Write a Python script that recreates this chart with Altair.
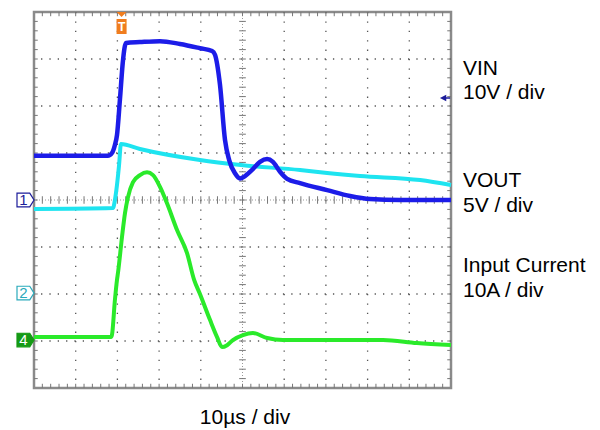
import altair as alt
import pandas as pd

# ---------------- data ----------------
# time axis in microseconds (10 us / div), trigger at t = 0
T_MIN, T_MAX = -21, 79
VIN_DOM = [-40, 40]        # 10 V / div, channel 1 ground at centre
VOUT_DOM = [-10.1, 29.9]   # 5 V / div, channel 2 ground
CUR_DOM = [-10.2, 69.8]    # 10 A / div, channel 4 ground
DIV_DOM = [0, 8]           # graticule, vertical divisions

vin_t = [-21, -3.3, -2.3, -1.6, -1.1, -0.4, 0.35, 1.05, 4.4, 9.2, 14.0, 18.8,
         21.7, 22.4, 23.6, 24.8, 25.8, 27.2, 28.4, 29.6, 31.3, 33.2, 34.9, 36.3,
         38.0, 39.7, 42.8, 49.3, 54.8, 59.6, 66.8, 79]
vin_v = [9.4, 9.4, 10.0, 11.7, 13.8, 21.3, 29.8, 33.4, 33.6, 33.8, 33.2, 32.3,
         31.7, 30.9, 24.5, 12.8, 8.5, 5.7, 4.6, 5.1, 6.4, 8.1, 8.7, 8.1,
         6.0, 4.5, 3.6, 2.1, 0.85, 0.2, 0.0, 0.0]

vout_t = [-21, -2.05, -1.6, -1.1, -0.6, -0.15, 4.4, 18.8, 28.6, 42.8, 49.3, 57.2, 71.6, 79]
vout_v = [8.94, 9.04, 9.89, 11.49, 13.62, 15.85, 15.32, 14.15, 13.62, 13.09, 12.77,
          12.45, 12.02, 11.49]

cur_t = [-21, -2.53, -2.3, -1.6, -1.1, -0.86, 0.1, 0.82, 1.54, 2.74, 4.42, 6.1, 7.54,
         9.22, 10.9, 13.3, 15.7, 17.4, 18.8, 21.2, 22.9, 24.1, 25.3, 26.7, 29.1,
         31.5, 34.9, 38.7, 50.7, 62.7, 70.8, 79]
cur_i = [0.64, 0.64, 1.1, 8.5, 12.8, 14.3, 21.9, 27.0, 30.4, 33.6, 35.1, 35.7, 35.1,
         32.6, 29.1, 23.4, 18.5, 12.8, 9.8, 4.3, 0.64, -1.5, -1.1, 0.0, 1.06,
         1.5, 0.43, 0.0, 0.0, 0.0, -0.64, -1.06]

trigger_time = [0.0]
trigger_level = [21.7]   # V on channel 1
trigger_arrow_t = [77.1]

channel_marks = ["1", "2", "4"]
right_labels = ["VIN", "10V / div", "VOUT", "5V / div", "Input Current", "10A / div"]
time_label = "10µs / div"

# ---------------- styling ----------------
W, H = 417, 376
FONT = "Liberation Sans"
BLUE = "#1c1ce8"
CYAN = "#1ee4f0"
GREEN = "#2aea2a"
NAVY = "#1c1c9a"
TEAL = "#2aaabb"
DKGREEN = "#159a15"
ORANGE = "#f07d1e"
PENT = "M-1,-0.8 L0.5,-0.8 L1,0 L0.5,0.8 L-1,0.8 Z"


def xs(field="t"):
    return alt.X(f"{field}:Q", scale=alt.Scale(domain=[T_MIN, T_MAX], nice=False, zero=False), axis=None)


def ys(field, dom):
    return alt.Y(f"{field}:Q", scale=alt.Scale(domain=dom, nice=False, zero=False), axis=None)


one = pd.DataFrame({"v": [0.0]})
layers = []

# graticule
vg = pd.DataFrame({"t": [T_MIN + 10 * k for k in range(1, 10) if k != 5]})
layers.append(alt.Chart(vg).mark_rule(color="#555", strokeWidth=1.3, strokeDash=[1.3, 8.1])
              .encode(x=xs()))
hg = pd.DataFrame({"d": [k for k in range(1, 8) if k != 4]})
layers.append(alt.Chart(hg).mark_rule(color="#555", strokeWidth=1.3, strokeDash=[1.3, 7.04])
              .encode(y=ys("d", DIV_DOM)))
layers.append(alt.Chart(pd.DataFrame({"t": [T_MIN + 50]})).mark_rule(color="#999", strokeDash=[1, 2])
              .encode(x=xs()))
layers.append(alt.Chart(pd.DataFrame({"d": [4]})).mark_rule(color="#999", strokeDash=[1, 2])
              .encode(y=ys("d", DIV_DOM)))

# minor ticks on centre lines and border
xt = [T_MIN + 2 * k for k in range(1, 50)]
yt = [0.2 * k for k in range(1, 40)]
for a, b in [(3.92, 4.08), (7.91, 8.0), (0.0, 0.09)]:
    df = pd.DataFrame({"t": xt, "a": a, "b": b})
    layers.append(alt.Chart(df).mark_rule(color="#777", strokeWidth=1)
                  .encode(x=xs(), y=ys("a", DIV_DOM), y2=alt.Y2("b:Q")))
for a, b in [(T_MIN + 50 - 0.8, T_MIN + 50 + 0.8), (T_MIN, T_MIN + 0.9), (T_MAX - 0.9, T_MAX)]:
    df = pd.DataFrame({"d": yt, "a": a, "b": b})
    layers.append(alt.Chart(df).mark_rule(color="#777", strokeWidth=1)
                  .encode(y=ys("d", DIV_DOM), x=xs("a"), x2=alt.X2("b:Q")))

# traces
cur_df = pd.DataFrame({"t": cur_t, "v": cur_i})
vout_df = pd.DataFrame({"t": vout_t, "v": vout_v})
vin_df = pd.DataFrame({"t": vin_t, "v": vin_v})
layers.append(alt.Chart(cur_df).mark_line(color=GREEN, strokeWidth=4, interpolate="monotone",
                                          strokeJoin="round").encode(x=xs(), y=ys("v", CUR_DOM)))
layers.append(alt.Chart(vout_df).mark_line(color=CYAN, strokeWidth=4, interpolate="monotone",
                                           strokeJoin="round").encode(x=xs(), y=ys("v", VOUT_DOM)))
layers.append(alt.Chart(vin_df).mark_line(color=BLUE, strokeWidth=4.5, interpolate="monotone",
                                          strokeJoin="round").encode(x=xs(), y=ys("v", VIN_DOM)))

# channel ground markers
for txt, dom, fill, stroke, tcol in [
    (channel_marks[0], VIN_DOM, "white", NAVY, NAVY),
    (channel_marks[1], VOUT_DOM, "white", TEAL, TEAL),
    (channel_marks[2], CUR_DOM, DKGREEN, DKGREEN, "white"),
]:
    layers.append(alt.Chart(one).mark_point(shape=PENT, filled=True, fill=fill, stroke=stroke,
                                            strokeWidth=1.2, size=289, opacity=1)
                  .encode(x=alt.value(-8.5), y=ys("v", dom)))
    layers.append(alt.Chart(one).mark_text(text=txt, color=tcol, font=FONT, fontSize=15,
                                           baseline="middle", align="center")
                  .encode(x=alt.value(-10.5), y=ys("v", dom)))

# trigger position marker
trig_df = pd.DataFrame({"t": trigger_time})
layers.append(alt.Chart(trig_df).mark_point(shape="M-1,-0.5 L1,-0.5 L0,0.5 Z", filled=True,
                                            color=ORANGE, size=100, opacity=1)
              .encode(x=xs(), y=alt.value(2.5)))
layers.append(alt.Chart(trig_df).mark_point(shape="M-0.67,-1 L0.67,-1 L0.67,1 L-0.67,1 Z", filled=True,
                                            color=ORANGE, size=225, opacity=1)
              .encode(x=xs(), y=alt.value(14.5)))
layers.append(alt.Chart(trig_df).mark_text(text="T", color="white", font=FONT, fontSize=12,
                                           fontWeight="bold", baseline="middle")
              .encode(x=xs(), y=alt.value(15)))

# trigger level arrow (channel 1)
lvl_df = pd.DataFrame({"t": trigger_arrow_t, "v": trigger_level, "t2": [T_MAX - 0.2]})
layers.append(alt.Chart(lvl_df).mark_rule(color=NAVY, strokeWidth=1.5)
              .encode(x=xs(), x2=alt.X2("t2:Q"), y=ys("v", VIN_DOM)))
layers.append(alt.Chart(lvl_df).mark_point(shape="M-1,0 L1,-1 L1,1 Z", filled=True, color=NAVY,
                                           size=40, opacity=1)
              .encode(x=xs(), y=ys("v", VIN_DOM)))

# text labels
for txt, yb in zip(right_labels, [63, 87, 175, 200, 260, 285]):
    layers.append(alt.Chart(one).mark_text(text=txt, color="black", font=FONT, fontSize=21,
                                           align="left", baseline="alphabetic")
                  .encode(x=alt.value(429), y=alt.value(yb)))
layers.append(alt.Chart(one).mark_text(text=time_label, color="black", font=FONT, fontSize=21,
                                       align="center", baseline="alphabetic")
              .encode(x=alt.value(211), y=alt.value(412)))

chart = (
    alt.layer(*layers)
    .resolve_scale(y="independent")
    .properties(width=W, height=H, background="white",
                padding={"left": 34, "top": 12, "right": 149, "bottom": 42},
                autosize=alt.AutoSizeParams(type="none"))
    .configure_view(stroke="#8a8a8a", strokeWidth=2.5)
)

chart.save("out.html", embed_options={"renderer": "svg", "actions": False})
